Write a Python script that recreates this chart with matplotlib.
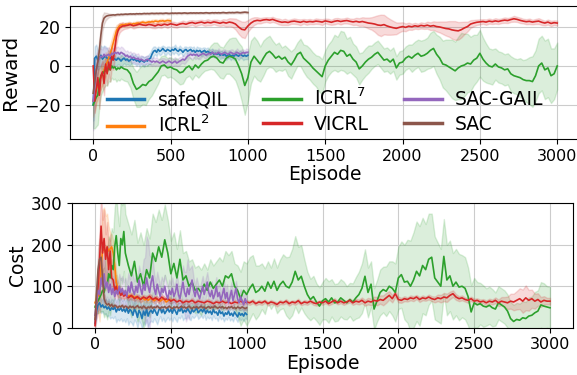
import numpy as np
import matplotlib
matplotlib.use("Agg")
import matplotlib.pyplot as plt

# episode grids (finer at the start of the long runs)
ep_long = np.concatenate([np.arange(0, 200, 10), np.arange(200, 3001, 20)])
ep_1k = np.arange(0, 1001, 10)
ep_500 = np.arange(0, 501, 10)

labels = ["safeQIL", r"ICRL$^2$", r"ICRL$^7$", "VICRL", "SAC-GAIL", "SAC"]
colors = ["C0", "C1", "C2", "C3", "C4", "C5"]

# ---------------- reward ----------------
safeqil_reward = [
    -20, 4, 5, 3, 4, 5.5, 3.5, 4.5, 5, 4,
    3.5, 4.5, 3, 4, 3.5, 3, 4, 3.5, 2.5, 3.5,
    4, 3, 3.5, 2.5, 3, 4, 3, 3.5, 2.5, 3,
    2, 3, 2.5, 2, 3, 2.5, 3.5, 4, 6, 7.5,
    8, 7, 8.5, 7.5, 8, 9, 8, 7.5, 8.5, 8,
    7.5, 8.5, 8, 9, 8, 7.5, 8.5, 8, 7, 8,
    8.5, 7.5, 8, 8.5, 7.5, 8, 7, 8, 7.5, 8,
    7, 7.5, 8, 7, 7.5, 7, 6.5, 7, 6, 6.5,
    6, 6.5, 5.5, 6, 5.5, 6, 5, 5.5, 6, 5,
    5.5, 5, 6, 5.5, 5, 6, 5.5, 5, 5.5, 5,
    5.5]
safeqil_reward_sd = [
    8, 6, 6, 5, 5, 5, 6, 6, 5, 5,
    4, 4, 4, 3.5, 3.5, 3, 3, 3, 3, 3,
    2.5, 2.5, 2.5, 2, 2.5, 2.5, 2, 2.5, 2.5, 2,
    2.5, 2, 2.5, 2.5, 2, 2.5, 2.5, 3, 3, 2.5,
    2, 2, 1.5, 2, 2, 1.5, 2, 2, 1.5, 2,
    2, 1.5, 2, 2, 1.5, 2, 2, 1.5, 2, 2,
    1.5, 2, 2, 1.5, 2, 2, 1.5, 2, 2, 1.5,
    2, 2, 1.5, 2, 2, 1.5, 2, 2, 1.5, 2,
    2, 1.5, 2, 2, 1.5, 2, 2, 1.5, 2, 2,
    1.5, 2, 2, 1.5, 2, 2, 1.5, 2, 2, 1.5,
    2]

icrl2_reward = [
    -18, -15, -12, -10, -7, -6, -4, -2, 0, 2,
    4, 6, 9, 12, 15, 18, 19.5, 20.5, 21, 21.2,
    21.0, 21.4, 21.2, 21.6, 21.5, 21.3, 21.7, 21.6, 21.9, 22.0,
    21.8, 22.2, 22.5, 22.3, 22.1, 22.4, 22.6, 22.5, 22.8, 22.6,
    23.0, 22.9, 22.7, 23.1, 23.0, 23.2, 22.9, 23.1, 23.3, 23.2,
    23.1]
icrl2_reward_sd = [
    8, 8, 7, 7, 6, 6, 6, 5, 5, 5,
    5, 5, 5, 5, 4, 3, 2, 1.5, 1.2, 1,
    1, 0.8, 1, 1.2, 1, 0.8, 1, 1, 1.2, 1,
    0.8, 1, 1, 0.8, 1.2, 1, 1, 0.8, 1, 1.2,
    1, 1, 0.8, 1, 1.2, 1, 0.8, 1, 1, 1.2,
    1]

icrl7_reward = [
    -20, -18, -16, -15, -8, -5, -4, -3, -2, -3,
    -1, -2, 0, -1, -0.5, -2, -1, -1.5, -0.5, -1,
    # 200 - 1000
    -1.5, -2, -4, -9, -12, -11, -9.5, -10, -8, -7,
    -5, -3, 0, 0.5, -1, -0.5, -1.5, -2, -3.5, -3,
    -1, 0, -2, 0.5, -1, 1, 2.5, 3, 4.5, 5,
    4, 2, 1.5, 4, 5, 4.5, 3.5, 0, -4, -10,
    -6,
    # 1020 - 3000
    2, 5, 3, 1, 4, 6.5, 7.5, 6, 4, 5,
    3.5, 4.5, 2, 0.5, 3, 6, 7, 4, 2.5, 1,
    -1, -2.5, -4, -5.5, 0, 3, 5, 7, 6, 8,
    7.5, 5, 6, 3.5, 2, -1.5, 0, 2, 3.5, 4.5,
    6, 7, 5, 3, 3.5, 2, 3.5, -1, 1.5, 2,
    4, 5, 4, 5.5, 6.5, 5, 5.5, 6.5, 8, 9,
    6, 4, 1, 0.5, -0.5, -1.5, -2.5, -1, 0, 0.5,
    1.5, 1, 3, 4, 6.5, 3.5, 1.5, 0, -0.5, 1,
    -0.5, -1, -2, -1.5, -4, -5, -5.5, -6, -7, -7.5,
    -7.5, -8, -5, 0, 1.5, -2, -1, -5, -4, 0]
icrl7_reward_sd = [
    12, 14, 15, 15, 12, 10, 9, 8, 8, 7,
    7, 6, 6, 6, 6, 6, 6, 6, 6, 6,
    6, 6, 7, 8, 9, 10, 10, 10, 9, 8,
    7, 6, 5, 5, 5, 5, 5, 6, 6, 6,
    5, 5, 5, 5, 5, 5, 5, 5, 6, 7,
    8, 8, 8, 8, 9, 10, 11, 12, 14, 15,
    12,
    11, 10, 10, 9, 9, 8, 8, 7, 7, 7,
    6, 6, 7, 7, 6, 6, 7, 7, 8, 8,
    8, 8, 9, 9, 8, 8, 8, 9, 9, 10,
    10, 9, 9, 8, 8, 8, 7, 7, 7, 6,
    6, 6, 6, 6, 6, 6, 6, 6, 6, 6,
    6, 6, 7, 7, 7, 8, 8, 8, 9, 9,
    10, 11, 12, 13, 14, 15, 15, 16, 17, 16,
    15, 14, 13, 12, 12, 11, 10, 9, 9, 8,
    8, 8, 8, 8, 9, 9, 9, 10, 10, 11,
    12, 13, 13, 14, 14, 15, 15, 14, 13, 12]

vicrl_reward = [
    0, -18, -12, -6, -15, -5, -3, -9, 1, -4,
    2, -2, 5, 3, 9, 15, 18, 19.5, 20, 20.5,
    # 200 - 1000
    20.5, 20.8, 21.2, 20.6, 21.0, 21.5, 21.0, 20.8, 21.3, 21.0,
    20.5, 21.2, 20.8, 21.4, 21.0, 21.6, 21.3, 20.9, 21.5, 21.8,
    21.4, 22.0, 22.3, 21.8, 22.2, 22.5, 22.0, 22.4, 22.1, 22.6,
    22.3, 21.9, 22.4, 22.0, 22.5, 22.2, 21.5, 20.0, 18.8, 18.5,
    20.5,
    # 1020 - 3000
    22.0, 23.0, 23.4, 23.2, 23.6, 23.8, 23.5, 23.9, 23.3, 22.8,
    22.4, 22.6, 22.3, 22.8, 23.0, 22.7, 22.4, 22.9, 22.5, 22.8,
    22.6, 23.0, 22.8, 22.5, 23.1, 22.8, 22.4, 22.9, 23.2, 22.8,
    23.1, 23.3, 22.9, 22.6, 22.9, 22.5, 22.8, 22.4, 22.0, 21.8,
    21.5, 21.0, 20.8, 21.2, 20.5, 20.0, 19.6, 19.3, 19.8, 20.2,
    19.8, 20.4, 20.1, 20.6, 20.3, 20.8, 20.5, 20.9, 20.4, 20.7,
    20.2, 20.0, 19.6, 19.2, 19.0, 18.5, 18.2, 18.0, 18.6, 19.5,
    20.2, 21.5, 22.0, 22.4, 22.6, 22.8, 22.5, 23.0, 22.7, 23.1,
    22.8, 23.2, 23.5, 23.3, 23.8, 24.2, 23.9, 23.4, 23.0, 22.7,
    22.9, 22.5, 22.8, 23.0, 22.4, 22.0, 22.5, 21.8, 22.2, 22.0]
vicrl_reward_sd = [
    4, 6, 7, 7, 7, 6, 6, 6, 6, 6,
    6, 6, 6, 5, 5, 4, 3, 2.5, 2, 2,
    1.5, 1.5, 1.2, 1.4, 1.3, 1.5, 1.2, 1.0, 1.3, 1.5,
    1.2, 1.4, 1.3, 1.1, 1.5, 1.2, 1.4, 1.3, 1.2, 1.5,
    1.3, 1.4, 1.2, 1.5, 1.3, 1.2, 1.4, 1.6, 1.3, 1.2,
    1.5, 1.4, 1.6, 1.8, 2.0, 2.2, 2.8, 3.5, 4.0, 4.2,
    3.0,
    2.5, 2.0, 1.6, 1.4, 1.3, 1.2, 1.4, 1.3, 1.2, 1.5,
    1.4, 1.6, 1.3, 1.2, 1.4, 1.3, 1.5, 1.2, 1.4, 1.3,
    1.2, 1.4, 1.3, 1.5, 1.2, 1.4, 1.3, 1.6, 1.4, 1.5,
    1.3, 1.5, 1.4, 1.6, 1.8, 2.0, 2.2, 2.4, 2.8, 3.2,
    4.0, 5.0, 5.5, 5.0, 4.5, 4.0, 3.5, 3.0, 2.5, 2.2,
    2.0, 1.8, 1.6, 1.5, 1.4, 1.6, 1.5, 1.8, 2.0, 2.2,
    2.5, 2.8, 3.2, 3.6, 4.0, 4.5, 4.8, 4.5, 4.0, 3.2,
    2.5, 2.0, 1.6, 1.4, 1.3, 1.2, 1.4, 1.3, 1.2, 1.4,
    1.3, 1.2, 1.4, 1.3, 1.2, 1.5, 1.3, 1.4, 1.2, 1.3,
    1.4, 1.2, 1.3, 1.5, 1.4, 1.2, 1.3, 1.4, 1.2, 1.3]

sacgail_reward = [
    -18, -10, -2, 2, 4, 5, 4.5, 6, 5, 5.5,
    6, 5, 6.5, 6, 7, 6.5, 7, 6, 7, 6.5,
    6, 5, 5.5, 4.5, 5, 4, 4.5, 4, 3.5, 4,
    3, 3.5, 3, 2.5, 3, 3.5, 3, 2.5, 2, 2.5,
    2, 2.5, 2, 1.5, 2, 2.5, 2, 1.5, 2, 2.5,
    2, 1.5, 2, 2.5, 1.5, 2, 2.5, 3, 3.5, 3,
    4, 5, 5.5, 6, 5.5, 6, 5.5, 6, 5, 5.5,
    6, 6.5, 6, 5.5, 6, 6.5, 6, 7, 6.5, 6,
    6.5, 7, 6.5, 6, 6.5, 7, 6.5, 6, 6.5, 7,
    6.5, 6, 6.5, 7, 6.5, 6, 6.5, 7, 6.5, 7,
    7]
sacgail_reward_sd = [
    15, 12, 8, 6, 5, 4, 4, 4, 4, 4,
    3.5, 3.5, 3, 3, 3, 3, 3, 3, 3, 3,
    2.5, 2.5, 2.5, 2.5, 2.5, 2.5, 2.5, 2.5, 2.5, 2.5,
    2, 2, 2, 2, 2, 2, 2, 2, 2, 2,
    2, 2, 1.5, 2, 2, 1.5, 2, 2, 1.5, 2,
    2, 1.5, 2, 2, 1.5, 2, 2, 1.5, 2, 2,
    2, 2, 1.5, 2, 2, 1.5, 2, 2, 1.5, 2,
    1.5, 1.5, 2, 1.5, 1.5, 2, 1.5, 1.5, 2, 1.5,
    1.5, 2, 1.5, 1.5, 2, 1.5, 1.5, 2, 1.5, 1.5,
    2, 1.5, 1.5, 2, 1.5, 1.5, 2, 1.5, 1.5, 2,
    1.5]

sac_reward = [
    -14, -8, -2, 2, 8, 16, 22, 24.5, 25.3, 25.7,
    25.9, 26.0, 26.1, 26.2, 26.1, 26.3, 26.4, 26.3, 26.5, 26.4,
    26.5, 26.6, 26.5, 26.6, 26.7, 26.6, 26.7, 26.6, 26.8, 26.7,
    26.8, 26.7, 26.8, 26.9, 26.8, 26.9, 26.8, 26.9, 27.0, 26.9,
    26.9, 27.0, 26.9, 27.0, 27.0, 26.9, 27.0, 27.1, 27.0, 26.9,
    27.0, 27.1, 27.0, 27.1, 27.0, 27.1, 27.1, 27.0, 27.1, 27.2,
    27.1, 27.0, 27.1, 27.2, 27.1, 27.2, 27.1, 27.2, 27.1, 27.2,
    27.2, 27.1, 27.2, 27.3, 27.2, 27.1, 27.2, 27.3, 27.2, 27.3,
    27.2, 27.3, 27.2, 27.3, 27.4, 27.3, 27.2, 27.3, 27.4, 27.3,
    27.4, 27.3, 27.4, 27.5, 27.4, 27.3, 27.4, 27.5, 27.6, 27.5,
    27.4]
sac_reward_sd = [
    4, 5, 6, 6, 6, 5, 4, 3, 2, 1.5,
    1, 0.8, 0.6, 0.5, 0.5, 0.4, 0.5, 0.4, 0.5, 0.4,
    0.4, 0.5, 0.4, 0.4, 0.5, 0.4, 0.4, 0.5, 0.4, 0.4,
    0.5, 0.4, 0.4, 0.5, 0.4, 0.4, 0.5, 0.4, 0.4, 0.5,
    0.4, 0.4, 0.5, 0.4, 0.4, 0.5, 0.4, 0.4, 0.5, 0.4,
    0.4, 0.5, 0.4, 0.4, 0.5, 0.4, 0.4, 0.5, 0.4, 0.4,
    0.5, 0.4, 0.4, 0.5, 0.4, 0.4, 0.5, 0.4, 0.4, 0.5,
    0.4, 0.4, 0.5, 0.4, 0.4, 0.5, 0.4, 0.4, 0.5, 0.4,
    0.4, 0.5, 0.4, 0.4, 0.5, 0.4, 0.4, 0.5, 0.4, 0.4,
    0.5, 0.4, 0.4, 0.5, 0.4, 0.4, 0.5, 0.4, 0.4, 0.5,
    0.4]

# ---------------- cost ----------------
safeqil_cost = [
    10, 40, 55, 60, 50, 55, 48, 52, 45, 50,
    42, 48, 44, 50, 38, 46, 42, 48, 40, 45,
    38, 48, 35, 44, 40, 30, 45, 38, 25, 42,
    35, 22, 40, 30, 45, 28, 38, 42, 35, 45,
    38, 30, 42, 48, 36, 44, 34, 40, 46, 38,
    44, 35, 46, 40, 32, 44, 40, 48, 36, 42,
    38, 46, 40, 34, 44, 38, 42, 48, 36, 40,
    44, 38, 46, 34, 42, 36, 40, 32, 44, 36,
    38, 30, 42, 34, 38, 28, 36, 32, 40, 30,
    35, 28, 38, 32, 26, 36, 30, 34, 28, 36,
    32]
safeqil_cost_sd = [
    5, 10, 15, 15, 15, 15, 15, 18, 18, 20,
    20, 22, 22, 22, 25, 25, 25, 25, 25, 25,
    25, 25, 28, 28, 28, 25, 25, 25, 25, 25,
    25, 25, 25, 25, 25, 25, 25, 25, 22, 22,
    22, 22, 22, 20, 20, 20, 20, 20, 20, 20,
    20, 20, 20, 20, 18, 18, 18, 18, 18, 18,
    16, 16, 16, 16, 16, 15, 15, 15, 15, 15,
    15, 15, 15, 15, 15, 14, 14, 14, 14, 14,
    14, 14, 14, 14, 14, 13, 13, 13, 13, 13,
    13, 13, 12, 12, 12, 12, 12, 12, 12, 12,
    12]

icrl2_cost = [
    60, 70, 80, 75, 150, 185, 190, 180, 195, 185,
    190, 195, 180, 150, 110, 95, 88, 85, 80, 82,
    78, 80, 76, 78, 74, 76, 72, 75, 70, 72,
    68, 72, 70, 67, 70, 66, 69, 72, 68, 65,
    68, 70, 66, 64, 67, 70, 66, 62, 65, 68,
    66]
icrl2_cost_sd = [
    20, 30, 40, 60, 80, 100, 100, 90, 80, 60,
    40, 30, 30, 30, 25, 20, 15, 12, 10, 10,
    8, 7, 8, 6, 7, 8, 6, 7, 8, 6,
    7, 8, 6, 7, 8, 6, 7, 8, 6, 7,
    8, 6, 7, 8, 6, 7, 8, 6, 7, 8,
    7]

icrl7_cost = [
    50, 60, 65, 72, 80, 90, 85, 105, 100, 130,
    120, 150, 140, 195, 222, 180, 150, 215, 200, 232,
    # 200 - 1000
    180, 150, 125, 160, 110, 130, 100, 140, 120, 180,
    160, 195, 170, 212, 180, 130, 155, 120, 165, 115,
    125, 100, 110, 90, 95, 85, 105, 90, 110, 95,
    105, 115, 100, 125, 120, 130, 100, 90, 70, 90,
    80,
    # 1020 - 3000
    95, 105, 85, 90, 100, 88, 110, 95, 112, 90,
    104, 112, 100, 96, 110, 136, 115, 124, 100, 80,
    68, 75, 62, 52, 65, 70, 62, 72, 60, 62,
    72, 66, 60, 68, 62, 72, 80, 95, 124, 85,
    105, 45, 65, 85, 92, 88, 100, 95, 85, 120,
    128, 110, 112, 100, 115, 136, 125, 150, 140, 165,
    170, 120, 110, 100, 172, 115, 125, 100, 110, 98,
    100, 95, 75, 38, 60, 55, 58, 52, 50, 54,
    48, 45, 60, 55, 50, 40, 22, 15, 20, 18,
    24, 22, 28, 30, 36, 40, 55, 52, 50, 48]
icrl7_cost_sd = [
    20, 25, 30, 35, 40, 50, 60, 70, 80, 90,
    90, 90, 90, 95, 95, 95, 95, 95, 95, 95,
    95, 100, 100, 100, 95, 100, 100, 100, 95, 95,
    95, 90, 90, 85, 80, 80, 75, 70, 70, 65,
    60, 60, 55, 55, 55, 55, 50, 50, 55, 55,
    55, 55, 60, 60, 55, 55, 55, 60, 65, 70,
    75,
    75, 70, 65, 60, 55, 55, 50, 50, 55, 55,
    60, 65, 70, 75, 80, 85, 80, 75, 65, 55,
    50, 50, 45, 45, 45, 50, 50, 45, 45, 45,
    45, 45, 40, 40, 45, 50, 55, 60, 65, 60,
    55, 50, 50, 55, 55, 60, 60, 65, 70, 75,
    80, 90, 100, 110, 115, 120, 120, 115, 110, 110,
    105, 100, 95, 90, 90, 85, 85, 80, 80, 80,
    75, 75, 70, 65, 60, 55, 50, 50, 45, 45,
    45, 40, 40, 40, 40, 40, 40, 40, 40, 40,
    40, 40, 45, 45, 50, 50, 55, 55, 50, 50]

vicrl_cost = [
    5, 60, 100, 160, 245, 180, 215, 165, 195, 140,
    185, 120, 115, 90, 100, 82, 88, 78, 84, 76,
    # 200 - 1000
    80, 72, 78, 70, 75, 68, 74, 70, 76, 68,
    72, 66, 74, 68, 70, 64, 68, 62, 66, 60,
    64, 62, 66, 60, 64, 62, 60, 64, 62, 58,
    62, 60, 64, 60, 62, 58, 62, 60, 64, 60,
    62,
    # 1020 - 3000
    60, 64, 58, 62, 60, 64, 58, 62, 60, 56,
    62, 60, 64, 58, 62, 60, 65, 58, 62, 60,
    64, 60, 58, 62, 60, 64, 58, 62, 66, 60,
    64, 60, 62, 66, 60, 64, 62, 66, 60, 64,
    62, 66, 64, 68, 66, 72, 78, 70, 82, 68,
    66, 70, 68, 72, 70, 74, 68, 72, 70, 74,
    70, 68, 72, 70, 74, 72, 78, 82, 74, 70,
    72, 68, 66, 70, 64, 66, 62, 64, 60, 64,
    62, 66, 60, 64, 62, 60, 64, 62, 66, 70,
    64, 72, 66, 70, 64, 68, 62, 66, 64, 64]
vicrl_cost_sd = [
    10, 40, 60, 80, 80, 80, 70, 60, 60, 50,
    40, 30, 25, 20, 15, 12, 10, 10, 8, 8,
    7, 6, 7, 6, 6, 7, 6, 6, 7, 6,
    6, 6, 7, 6, 6, 6, 5, 6, 6, 5,
    6, 5, 6, 5, 6, 5, 5, 6, 5, 5,
    6, 5, 5, 6, 5, 5, 6, 5, 6, 5,
    5,
    5, 5, 4, 5, 5, 4, 5, 5, 4, 5,
    5, 4, 5, 5, 4, 5, 5, 4, 5, 5,
    4, 5, 5, 4, 5, 5, 4, 5, 5, 4,
    5, 5, 4, 5, 5, 6, 6, 7, 7, 8,
    8, 9, 10, 10, 12, 12, 10, 9, 8, 7,
    6, 6, 5, 6, 6, 5, 6, 6, 5, 6,
    6, 7, 8, 9, 10, 10, 9, 8, 7, 6,
    6, 5, 6, 5, 6, 5, 6, 5, 6, 6,
    6, 7, 8, 10, 12, 15, 18, 20, 22, 25,
    28, 30, 25, 22, 18, 15, 12, 10, 8, 8]

sacgail_cost = [
    30, 60, 90, 80, 120, 100, 130, 95, 110, 85,
    105, 80, 95, 75, 90, 80, 100, 85, 95, 80,
    90, 75, 100, 85, 110, 90, 80, 100, 85, 115,
    95, 80, 105, 90, 120, 100, 85, 110, 125, 95,
    80, 105, 90, 75, 95, 85, 100, 80, 70, 90,
    80, 95, 75, 85, 105, 80, 70, 90, 110, 85,
    75, 95, 80, 100, 115, 90, 75, 95, 80, 70,
    85, 100, 80, 95, 110, 85, 75, 90, 70, 80,
    100, 75, 85, 65, 80, 95, 70, 85, 60, 75,
    90, 65, 80, 95, 70, 60, 75, 65, 55, 70,
    60]
sacgail_cost_sd = [
    20, 30, 40, 40, 50, 50, 50, 40, 35, 30,
    30, 30, 30, 28, 28, 28, 30, 30, 30, 30,
    30, 30, 32, 32, 35, 35, 32, 30, 30, 35,
    40, 50, 60, 80, 100, 110, 90, 60, 45, 35,
    30, 30, 28, 28, 28, 28, 28, 26, 26, 26,
    26, 26, 25, 25, 25, 25, 25, 30, 40, 50,
    60, 70, 60, 45, 35, 30, 28, 26, 25, 25,
    25, 25, 24, 24, 24, 24, 24, 22, 22, 22,
    22, 22, 22, 22, 20, 20, 20, 20, 20, 20,
    20, 20, 20, 18, 18, 18, 18, 18, 18, 18,
    18]

sac_cost = [
    20, 80, 140, 165, 170, 120, 70, 60, 55, 58,
    52, 56, 50, 54, 52, 48, 52, 50, 54, 48,
    52, 50, 47, 52, 49, 51, 47, 50, 53, 48,
    50, 47, 52, 49, 46, 50, 48, 52, 47, 50,
    48, 52, 49, 46, 50, 48, 51, 47, 49, 52,
    48, 46, 50, 48, 51, 47, 49, 52, 48, 50,
    47, 49, 52, 48, 46, 50, 48, 51, 47, 49,
    52, 48, 50, 46, 49, 51, 47, 50, 48, 52,
    49, 47, 50, 48, 51, 47, 49, 46, 50, 48,
    51, 47, 49, 46, 50, 48, 47, 50, 48, 46,
    48]
sac_cost_sd = [
    10, 30, 50, 50, 40, 30, 15, 10, 8, 6,
    5, 5, 4, 4, 4, 4, 4, 4, 4, 4,
    4, 4, 4, 4, 4, 4, 4, 4, 4, 4,
    4, 4, 4, 4, 4, 4, 4, 4, 4, 4,
    4, 4, 4, 4, 4, 4, 4, 4, 4, 4,
    4, 4, 4, 4, 4, 4, 4, 4, 4, 4,
    4, 4, 4, 4, 4, 4, 4, 4, 4, 4,
    4, 4, 4, 4, 4, 4, 4, 4, 4, 4,
    4, 4, 4, 4, 4, 4, 4, 4, 4, 4,
    4, 4, 4, 4, 4, 4, 4, 4, 4, 4,
    4]


def draw(ax, x, y, sd, color, label):
    y = np.asarray(y, dtype=float)
    sd = np.asarray(sd, dtype=float)
    ax.fill_between(x, y - sd, y + sd, color=color, alpha=0.17)
    ax.plot(x, y, color=color, lw=1.2, label=label)


def style(ax, ylabel, ylab_size, ytick_size):
    ax.set_xlim(-150, 3150)
    ax.set_xticks(np.arange(0, 3001, 500))
    ax.grid(True, color="#cccccc", lw=0.8)
    ax.set_axisbelow(True)
    ax.tick_params(axis="x", labelsize=11.5)
    ax.tick_params(axis="y", labelsize=ytick_size)
    ax.set_xlabel("Episode", fontsize=13.5, labelpad=1)
    ax.set_ylabel(ylabel, fontsize=ylab_size, labelpad=3)


fig = plt.figure(figsize=(5.77, 3.75), dpi=100)
ax1 = fig.add_axes([70 / 577, (375 - 139.3) / 375, 510.4 / 577, 133.6 / 375])
ax2 = fig.add_axes([72.25 / 577, (375 - 327.7) / 375, 500.5 / 577, 124.4 / 375])

reward_runs = [
    (ep_1k, safeqil_reward, safeqil_reward_sd),
    (ep_500, icrl2_reward, icrl2_reward_sd),
    (ep_long, icrl7_reward, icrl7_reward_sd),
    (ep_long, vicrl_reward, vicrl_reward_sd),
    (ep_1k, sacgail_reward, sacgail_reward_sd),
    (ep_1k, sac_reward, sac_reward_sd),
]
cost_runs = [
    (ep_1k, safeqil_cost, safeqil_cost_sd),
    (ep_500, icrl2_cost, icrl2_cost_sd),
    (ep_long, icrl7_cost, icrl7_cost_sd),
    (ep_long, vicrl_cost, vicrl_cost_sd),
    (ep_1k, sacgail_cost, sacgail_cost_sd),
    (ep_1k, sac_cost, sac_cost_sd),
]

for (x, y, sd), c, lab in zip(reward_runs, colors, labels):
    draw(ax1, x, y, sd, c, lab)
for (x, y, sd), c, lab in zip(cost_runs, colors, labels):
    draw(ax2, x, y, sd, c, lab)

style(ax1, "Reward", 14.5, 12.5)
ax1.set_ylim(-37.6, 30.9)
ax1.set_yticks([-20, 0, 20])

style(ax2, "Cost", 13.5, 12)
ax2.set_ylim(0, 300)
ax2.set_yticks([0, 100, 200, 300])

leg = ax1.legend(ncol=3, loc="lower center", bbox_to_anchor=(0.5, 0.0),
                 frameon=False, fontsize=13.5, handlelength=2.0,
                 columnspacing=1.9, handletextpad=0.7, labelspacing=0.3,
                 borderaxespad=-0.25)
for line in leg.get_lines():
    line.set_linewidth(2.5)

fig.savefig("out.png", dpi=100)
